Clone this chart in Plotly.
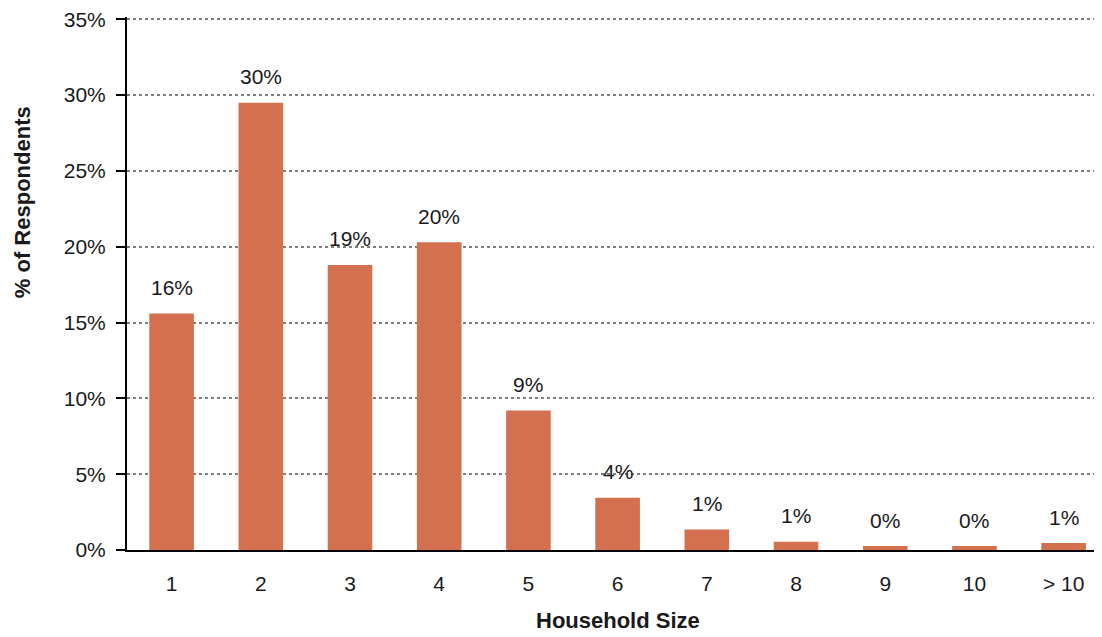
import plotly.graph_objects as go

categories = ["1", "2", "3", "4", "5", "6", "7", "8", "9", "10", "> 10"]
values = [15.6, 29.5, 18.8, 20.3, 9.2, 3.45, 1.36, 0.55, 0.26, 0.26, 0.46]
labels = ["16%", "30%", "19%", "20%", "9%", "4%", "1%", "1%", "0%", "0%", "1%"]
y_ticks = [0, 5, 10, 15, 20, 25, 30, 35]
y_tick_text = [f"{t}%" for t in y_ticks]

FONT = "Liberation Sans Narrow, Arial Narrow, Liberation Sans, Arial, sans-serif"
BAR = "#D3704F"
TXT = "#1a1a1a"

# page body has an 8px margin, so the figure starts at (8, 8) on screen
OFF = 8
Y_TOP = 35.15
PX_PER_UNIT = (550 - 19) / 35.0
PLOT_L, PLOT_R, PLOT_B = 127, 1102, 550
PLOT_T = PLOT_B - Y_TOP * PX_PER_UNIT
PW, PH = PLOT_R - PLOT_L, PLOT_B - PLOT_T

fig = go.Figure()
fig.add_trace(go.Bar(
    x=categories, y=values, marker=dict(color=BAR, line=dict(width=0)),
    width=0.5, hoverinfo="skip",
))

annotations = []
for i, (v, t) in enumerate(zip(values, labels)):
    annotations.append(dict(x=i, y=v, xref="x", yref="y", text=t, showarrow=False,
                            yanchor="middle", yshift=26,
                            font=dict(family=FONT, size=21, color=TXT)))

annotations.append(dict(text="Household Size", xref="paper", yref="paper",
                        x=(618 - PLOT_L) / PW, y=-(621 - PLOT_B) / PH, xanchor="center",
                        yanchor="middle", showarrow=False,
                        font=dict(family=FONT, size=22, color=TXT, weight="bold")))
annotations.append(dict(text="% of Respondents", xref="paper", yref="paper",
                        x=-(PLOT_L - 22) / PW, y=(PLOT_B - 202) / PH, xanchor="center",
                        yanchor="middle", textangle=-90, showarrow=False,
                        font=dict(family=FONT, size=22, color=TXT, weight="bold")))

fig.update_layout(
    width=1102 - OFF, height=637 - OFF,
    margin=dict(l=PLOT_L - OFF, r=1102 - PLOT_R, t=PLOT_T - OFF, b=637 - PLOT_B, autoexpand=False),
    paper_bgcolor="white", plot_bgcolor="white",
    showlegend=False,
    annotations=annotations,
    xaxis=dict(
        type="category", range=[-0.5, 10.43],
        showgrid=False, showline=True, linecolor="black", linewidth=2,
        ticks="", tickfont=dict(family=FONT, size=21, color=TXT),
        ticklabelstandoff=14, zeroline=False,
    ),
    yaxis=dict(
        range=[0, Y_TOP], tickvals=y_ticks, ticktext=y_tick_text,
        showgrid=True, gridcolor="#7f7f7f", griddash="dot", gridwidth=1.5,
        showline=True, linecolor="black", linewidth=2,
        ticks="outside", ticklen=9, tickwidth=2, tickcolor="black",
        tickfont=dict(family=FONT, size=21, color=TXT),
        ticklabelstandoff=6, ticklabeloverflow="allow", zeroline=False,
    ),
)

fig.write_html("out.html")
